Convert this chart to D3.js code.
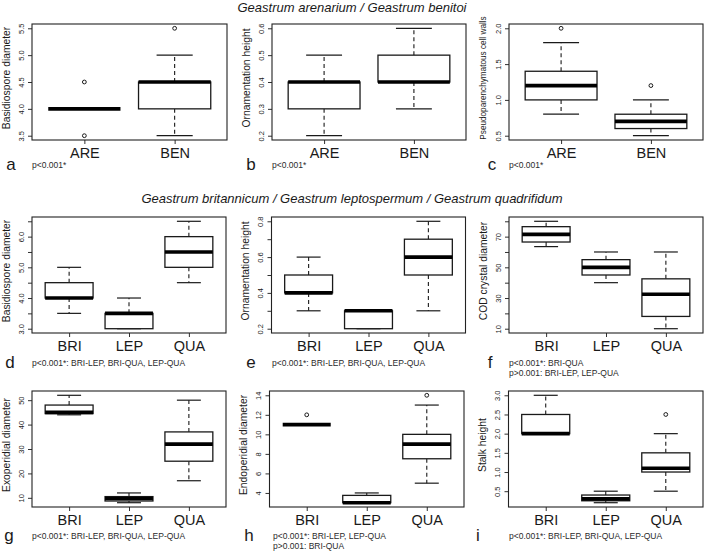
<!DOCTYPE html>
<html>
<head>
<meta charset="utf-8">
<script src="https://cdn.jsdelivr.net/npm/d3@7"></script>
<style>
  body { margin: 0; background: #fff; }
  svg { display: block; }
</style>
</head>
<body>
<div id="chart"></div>
<script>
"use strict"

/**
 * DATA
 * each box: [lower whisker, q1, median, q3, upper whisker]
 * */
const groupsAB = ["ARE", "BEN"];
const groupsBLQ = ["BRI", "LEP", "QUA"];

const titleTop = "Geastrum arenarium / Geastrum benitoi";
const titleMid = "Geastrum britannicum / Geastrum leptospermum / Geastrum quadrifidum";

// a
const sporeAB = [[4.0, 4.0, 4.0, 4.0, 4.0], [3.5, 4.0, 4.5, 4.5, 5.0]];
const sporeABOut = [[3.5, 4.5], [5.5]];
const sporeABTicks = [3.5, 4.0, 4.5, 5.0, 5.5];
// b
const ornamAB = [[0.2, 0.3, 0.4, 0.4, 0.5], [0.3, 0.4, 0.4, 0.5, 0.6]];
const ornamABOut = [[], []];
const ornamABTicks = [0.2, 0.3, 0.4, 0.5, 0.6];
// c
const wallsAB = [[0.8, 1.0, 1.2, 1.4, 1.8], [0.5, 0.6, 0.7, 0.8, 1.0]];
const wallsABOut = [[2.0], [1.2]];
const wallsABTicks = [0.5, 1.0, 1.5, 2.0];
// d
const sporeBLQ = [[3.5, 4.0, 4.0, 4.5, 5.0], [3.0, 3.0, 3.5, 3.5, 4.0], [4.5, 5.0, 5.5, 6.0, 6.5]];
const sporeBLQOut = [[], [], []];
const sporeBLQTicks = [3.0, 3.5, 4.0, 4.5, 5.0, 5.5, 6.0, 6.5];
const sporeBLQLabels = [3.0, 4.0, 5.0, 6.0];
// e
const ornamBLQ = [[0.3, 0.4, 0.4, 0.5, 0.6], [0.2, 0.2, 0.3, 0.3, 0.3], [0.3, 0.5, 0.6, 0.7, 0.8]];
const ornamBLQOut = [[], [], []];
const ornamBLQTicks = [0.2, 0.3, 0.4, 0.5, 0.6, 0.7, 0.8];
const ornamBLQLabels = [0.2, 0.4, 0.6, 0.8];
// f
const codBLQ = [[63.5, 66.5, 71.5, 76.5, 80], [40, 45, 50, 55, 60], [10, 18, 32.5, 42.5, 60]];
const codBLQOut = [[], [], []];
const codBLQTicks = [10, 20, 30, 40, 50, 60, 70, 80];
const codBLQLabels = [10, 30, 50, 70];
// g
const exoBLQ = [[44, 44.5, 45, 48, 52], [8, 8.7, 9.7, 10.5, 12], [17, 25, 32, 37, 50]];
const exoBLQOut = [[], [], []];
const exoBLQTicks = [10, 20, 30, 40, 50];
// h
const endoBLQ = [[11, 11, 11, 11, 11], [3, 3, 3, 3.75, 4], [5, 7.5, 9, 10, 13]];
const endoBLQOut = [[12], [], [14]];
const endoBLQTicks = [4, 6, 8, 10, 12, 14];
// i
const stalkBLQ = [[2.0, 2.0, 2.0, 2.5, 3.0], [0.2, 0.25, 0.3, 0.4, 0.5], [0.5, 1.0, 1.1, 1.5, 2.0]];
const stalkBLQOut = [[], [], [2.5]];
const stalkBLQTicks = [0.5, 1.0, 1.5, 2.0, 2.5, 3.0];

const width = 704,
  height = 551,
  font = '"Liberation Sans", Arial, Helvetica, sans-serif',
  ink = "#1a1a1a";

// layout: frame edges, letter centre, p-value text start
const panels = [
  { id: "a", groups: groupsAB, stats: sporeAB, out: sporeABOut, ticks: sporeABTicks, ylab: "Basidiospore diameter",
    box: [32, 227, 24, 140], letterX: 11, pX: 32, pY: 168, p: ["p<0.001*"] },
  { id: "b", groups: groupsAB, stats: ornamAB, out: ornamABOut, ticks: ornamABTicks, ylab: "Ornamentation height",
    box: [272, 466, 24, 140], letterX: 251, pX: 272, pY: 168, p: ["p<0.001*"] },
  { id: "c", groups: groupsAB, stats: wallsAB, out: wallsABOut, ticks: wallsABTicks, ylab: "Pseudoparenchymatous cell walls", ylabSize: 8.2,
    box: [509, 703, 24, 140], letterX: 492, pX: 509, pY: 168, p: ["p<0.001*"] },
  { id: "d", groups: groupsBLQ, stats: sporeBLQ, out: sporeBLQOut, ticks: sporeBLQTicks, labels: sporeBLQLabels, ylab: "Basidiospore diameter",
    box: [32, 226, 217, 333], letterX: 10, pX: 32, pY: 366, p: ["p<0.001*: BRI-LEP, BRI-QUA, LEP-QUA"] },
  { id: "e", groups: groupsBLQ, stats: ornamBLQ, out: ornamBLQOut, ticks: ornamBLQTicks, labels: ornamBLQLabels, ylab: "Ornamentation height",
    box: [271.5, 465.5, 217, 333], letterX: 251, pX: 272, pY: 366, p: ["p<0.001*: BRI-LEP, BRI-QUA, LEP-QUA"] },
  { id: "f", groups: groupsBLQ, stats: codBLQ, out: codBLQOut, ticks: codBLQTicks, labels: codBLQLabels, ylab: "COD crystal diameter",
    box: [509, 703, 217, 333], letterX: 490, pX: 509, pY: 366, p: ["p<0.001*: BRI-QUA", "p>0.001: BRI-LEP, LEP-QUA"] },
  { id: "g", groups: groupsBLQ, stats: exoBLQ, out: exoBLQOut, ticks: exoBLQTicks, ylab: "Exoperidial diameter",
    box: [32, 226, 391, 507], letterX: 9, pX: 32, pY: 539, p: ["p<0.001*: BRI-LEP, BRI-QUA, LEP-QUA"] },
  { id: "h", groups: groupsBLQ, stats: endoBLQ, out: endoBLQOut, ticks: endoBLQTicks, ylab: "Endoperidial diameter",
    box: [269.5, 464, 391, 507], letterX: 249, pX: 273, pY: 539, p: ["p<0.001*: BRI-LEP, LEP-QUA", "p>0.001: BRI-QUA"] },
  { id: "i", groups: groupsBLQ, stats: stalkBLQ, out: stalkBLQOut, ticks: stalkBLQTicks, ylab: "Stalk height",
    box: [508.5, 703, 391, 507], letterX: 478, pX: 509, pY: 539, p: ["p<0.001*: BRI-LEP, BRI-QUA, LEP-QUA"] }
];

const svg = d3.select("#chart")
  .append("svg")
  .attr("width", width)
  .attr("height", height)
  .style("font-family", font);

svg.append("rect").attr("width", width).attr("height", height).attr("fill", "#fff");

// section titles
svg.append("text")
  .attr("x", 352).attr("y", 12)
  .attr("text-anchor", "middle")
  .style("font-size", "13px").style("font-style", "italic").attr("fill", ink)
  .text(titleTop);

svg.append("text")
  .attr("x", 352).attr("y", 203)
  .attr("text-anchor", "middle")
  .style("font-size", "13px").style("font-style", "italic").attr("fill", ink)
  .text(titleMid);

panels.forEach(drawPanel);

function drawPanel(p) {
  const [left, right, top, bottom] = p.box;
  const n = p.groups.length;

  // R style axis ranges: 4% padding
  const x = d3.scaleLinear()
    .domain([0.5 - 0.04 * n, n + 0.5 + 0.04 * n])
    .range([left, right]);

  const all = p.stats.flat().concat(p.out.flat());
  const [lo, hi] = d3.extent(all);
  const pad = (hi - lo) * 0.04;
  const y = d3.scaleLinear()
    .domain([lo - pad, hi + pad])
    .range([bottom, top]);

  const g = svg.append("g").attr("class", "panel-" + p.id);

  // y axis
  const labelled = p.labels || p.ticks;
  const yAxis = g.append("g")
    .attr("transform", `translate(${left},0)`)
    .call(d3.axisLeft(y)
      .tickValues(p.ticks)
      .tickSize(4)
      .tickFormat(v => labelled.some(l => Math.abs(l - v) < 1e-9) ? formatTick(v, p.ticks) : ""));
  yAxis.select(".domain").remove();
  yAxis.selectAll("line").attr("stroke", ink).attr("stroke-width", 0.9);
  yAxis.selectAll("text")
    .attr("x", null)
    .attr("dy", "0.36em")
    .attr("transform", "translate(-11,0) rotate(-90)")
    .attr("text-anchor", "middle")
    .attr("fill", ink)
    .style("font-size", "7.5px")
    .style("font-family", font);

  // x axis
  const xAxis = g.append("g")
    .attr("transform", `translate(0,${bottom})`)
    .call(d3.axisBottom(x)
      .tickValues(d3.range(1, n + 1))
      .tickSize(4)
      .tickPadding(3.5)
      .tickFormat(i => p.groups[i - 1]));
  xAxis.select(".domain").remove();
  xAxis.selectAll("line").attr("stroke", ink).attr("stroke-width", 0.9);
  xAxis.selectAll("text")
    .attr("fill", ink)
    .style("font-size", "14.5px")
    .style("font-family", font);

  // y axis title
  g.append("text")
    .attr("transform", `translate(${left - 26},${(top + bottom) / 2 - 4}) rotate(-90)`)
    .attr("text-anchor", "middle")
    .attr("dy", "0.36em")
    .attr("fill", ink)
    .style("font-size", (p.ylabSize || 10.3) + "px")
    .text(p.ylab);

  const halfBox = x(0.4) - x(0);
  const halfCap = x(0.2) - x(0);

  const box = g.selectAll("g.box")
    .data(p.stats.map((s, i) => ({ s: s, out: p.out[i], pos: i + 1 })))
    .join("g")
    .attr("class", "box");

  // whiskers
  box.append("line")
    .attr("x1", d => x(d.pos)).attr("x2", d => x(d.pos))
    .attr("y1", d => y(d.s[3])).attr("y2", d => y(d.s[4]))
    .attr("stroke", ink).attr("stroke-width", 1.1).attr("stroke-dasharray", "4,3");
  box.append("line")
    .attr("x1", d => x(d.pos)).attr("x2", d => x(d.pos))
    .attr("y1", d => y(d.s[1])).attr("y2", d => y(d.s[0]))
    .attr("stroke", ink).attr("stroke-width", 1.1).attr("stroke-dasharray", "4,3");

  // staples
  [0, 4].forEach(k => {
    box.append("line")
      .attr("x1", d => x(d.pos) - halfCap).attr("x2", d => x(d.pos) + halfCap)
      .attr("y1", d => y(d.s[k])).attr("y2", d => y(d.s[k]))
      .attr("stroke", ink).attr("stroke-width", 1.2);
  });

  // box
  box.append("rect")
    .attr("x", d => x(d.pos) - halfBox)
    .attr("width", halfBox * 2)
    .attr("y", d => y(d.s[3]))
    .attr("height", d => y(d.s[1]) - y(d.s[3]))
    .attr("fill", "#fff")
    .attr("stroke", ink)
    .attr("stroke-width", 1.3);

  // median
  box.append("line")
    .attr("x1", d => x(d.pos) - halfBox).attr("x2", d => x(d.pos) + halfBox)
    .attr("y1", d => y(d.s[2])).attr("y2", d => y(d.s[2]))
    .attr("stroke", "#000").attr("stroke-width", 3.6);

  // outliers
  box.selectAll("circle")
    .data(d => d.out.map(v => ({ v: v, pos: d.pos })))
    .join("circle")
    .attr("cx", d => x(d.pos))
    .attr("cy", d => y(d.v))
    .attr("r", 1.9)
    .attr("fill", "none")
    .attr("stroke", ink)
    .attr("stroke-width", 1);

  // frame
  g.append("rect")
    .attr("x", left).attr("y", top)
    .attr("width", right - left).attr("height", bottom - top)
    .attr("fill", "none")
    .attr("stroke", "#222")
    .attr("stroke-width", 1.1);

  // panel letter
  g.append("text")
    .attr("x", p.letterX)
    .attr("y", p.pY + 1.5)
    .attr("text-anchor", "middle")
    .attr("fill", ink)
    .style("font-size", "17px")
    .text(p.id);

  // p values
  g.selectAll("text.pval")
    .data(p.p)
    .join("text")
    .attr("class", "pval")
    .attr("x", p.pX)
    .attr("y", (d, i) => p.pY + i * 9.5)
    .attr("fill", "#2a2a2a")
    .style("font-size", "8.5px")
    .text(d => d);
}

function formatTick(v, ticks) {
  // one decimal when any tick is fractional, like R
  const frac = ticks.some(t => Math.abs(t - Math.round(t)) > 1e-9);
  return frac ? d3.format(".1f")(v) : d3.format("d")(v);
}
</script>
</body>
</html>
